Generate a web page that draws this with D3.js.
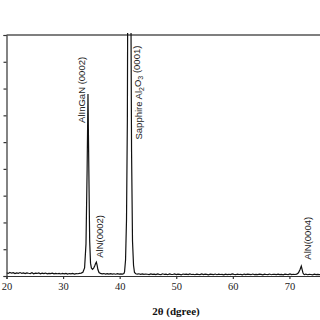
<!DOCTYPE html>
<html>
<head>
<meta charset="utf-8">
<script src="https://cdn.jsdelivr.net/npm/d3@7"></script>
<style>
  body { margin: 0; background: #fff; }
  svg { display: block; }
</style>
</head>
<body>
<div id="GraphDiv"></div>
<script>
// Global variables.
let width = 320
let height = 320
let margins = {"left": 6.5, "right": -26, "top": 35, "bottom": 44};

// Scan data (2theta in degrees, counts).
const scanAngle = [
  20.0, 20.3, 20.6, 20.9, 21.2, 21.5, 21.8, 22.1, 22.4, 22.7, 23.0, 23.3, 23.6, 23.9,
  24.2, 24.5, 24.8, 25.1, 25.4, 25.7, 26.0, 26.3, 26.6, 26.9, 27.2, 27.5, 27.8, 28.1,
  28.4, 28.7, 29.0, 29.3, 29.6, 29.9, 30.2, 30.5, 30.8, 31.1, 31.4, 31.7, 32.0, 32.3,
  32.6, 32.9, 33.2, 33.5, 33.8, 34.05, 34.25, 34.4, 34.55, 34.7, 34.85, 35.0, 35.2,
  35.4, 35.6, 35.75, 35.88, 36.0, 36.15, 36.35, 36.6, 36.9, 37.2, 37.5, 37.8, 38.1,
  38.4, 38.7, 39.0, 39.3, 39.6, 39.9, 40.2, 40.5, 40.75, 40.86, 41.04, 41.21, 41.36,
  41.42, 41.55, 41.71, 41.87, 42.0, 42.1, 42.27, 42.45, 42.62, 42.85, 43.1, 43.4, 43.7,
  44.0, 44.3, 44.6, 44.9, 45.2, 45.5, 45.8, 46.1, 46.4, 46.7, 47.0, 47.3, 47.6, 47.9,
  48.2, 48.5, 48.8, 49.1, 49.4, 49.7, 50.0, 50.3, 50.6, 50.9, 51.2, 51.5, 51.8, 52.1,
  52.4, 52.7, 53.0, 53.3, 53.6, 53.9, 54.2, 54.5, 54.8, 55.1, 55.4, 55.7, 56.0, 56.3,
  56.6, 56.9, 57.2, 57.5, 57.8, 58.1, 58.4, 58.7, 59.0, 59.3, 59.6, 59.9, 60.2, 60.5,
  60.8, 61.1, 61.4, 61.7, 62.0, 62.3, 62.6, 62.9, 63.2, 63.5, 63.8, 64.1, 64.4, 64.7,
  65.0, 65.3, 65.6, 65.9, 66.2, 66.5, 66.8, 67.1, 67.4, 67.7, 68.0, 68.3, 68.6, 68.9,
  69.2, 69.5, 69.8, 70.1, 70.4, 70.7, 71.0, 71.3, 71.6, 71.9, 72.1, 72.25, 72.4, 72.55,
  72.7, 72.9, 73.2, 73.5, 73.8, 74.1, 74.4, 74.7, 75.0, 75.3, 75.6, 75.9, 76.2, 76.5
]
const scanCounts = [
  120, 95, 130, 105, 125, 90, 115, 100, 128, 96, 112, 88, 118, 102,
  92, 120, 85, 108, 95, 115, 82, 104, 90, 110, 80, 98, 86, 106,
  78, 96, 84, 100, 76, 94, 82, 98, 74, 92, 80, 95, 72, 90,
  84, 98, 110, 140, 300, 1200, 4000, 6800, 4000, 1300, 480, 300, 250,
  290, 380, 470, 520, 420, 240, 130, 95, 80, 92, 70, 85, 68,
  88, 72, 84, 66, 86, 74, 82, 70, 90, 150, 600, 2100, 5800,
  10000, 22000, 30000, 22000, 9500, 4700, 1300, 400, 130, 85, 70, 84, 62,
  78, 58, 74, 66, 52, 80, 60, 72, 50, 76, 62, 55, 82, 58,
  70, 48, 76, 64, 56, 80, 52, 70, 60, 46, 74, 58, 68, 50,
  78, 56, 64, 48, 72, 60, 54, 76, 50, 66, 58, 44, 70, 62,
  52, 74, 48, 66, 56, 60, 46, 72, 54, 64, 50, 76, 58, 48,
  68, 56, 62, 44, 72, 52, 66, 58, 48, 74, 54, 62, 50, 68,
  60, 46, 70, 56, 52, 74, 48, 64, 58, 50, 72, 54, 62, 46,
  70, 58, 52, 76, 50, 64, 56, 70, 120, 250, 370, 240,
  110, 65, 54, 72, 48, 62, 56, 46, 68, 52, 60, 50, 66, 54
]
const xTicks = [20, 30, 40, 50, 60, 70]
const yTicks = [0, 1000, 2000, 3000, 4000, 5000, 6000, 7000, 8000, 9000]

// Peak labels: position in data units (angle, counts at label centre).
const peakNames = ["AlInGaN (0002)", "Sapphire Al|2|O|3| (0001)", "AlN(0002)", "AlN(0004)"]
const peakAngles = [33.2, 43.3, 36.45, 73.25]
const peakLabelCounts = [6950, 6850, 1480, 1410]

// Main svg element.
let svg = d3.select("#GraphDiv")
    .append("svg")
    .attr("width", width)
    .attr("height", height)

let plotW = width - margins.left - margins.right
let plotH = height - margins.top - margins.bottom

let g = svg.append("g")
    .attr("transform", "translate(" + margins.left + "," + margins.top + ")");

// Define axes ranges.
let xRange = d3.scaleLinear().domain([20, 80]).range([0, plotW]);
let yRange = d3.scaleLinear().domain([0, 9000]).range([plotH, 0]);

// Create axes.
let xAxis = d3.axisBottom(xRange).tickValues(xTicks).tickSize(3).tickPadding(4);
let yAxis = d3.axisLeft(yRange).tickValues(yTicks).tickSize(3).tickFormat("");

let gx = g.append("g").attr("transform", "translate(0," + plotH + ")").call(xAxis);
let gy = g.append("g").call(yAxis);

[gx, gy].forEach(function(a) {
    a.selectAll("path, line").attr("stroke", "#333").attr("stroke-width", 1.2);
    a.selectAll("text")
        .attr("fill", "#222")
        .style("font-family", "'Liberation Serif', 'Times New Roman', serif")
        .style("font-size", "10.5px");
});

// Top frame line.
g.append("line")
    .attr("x1", 0).attr("x2", plotW)
    .attr("y1", 0).attr("y2", 0)
    .attr("stroke", "#555")
    .attr("stroke-width", 1.5);

// Clip the trace to the plot area.
svg.append("defs").append("clipPath").attr("id", "plotClip")
    .append("rect").attr("x", 0).attr("y", -2).attr("width", plotW).attr("height", plotH + 2);

let line = d3.line()
    .x(function(d, i) { return xRange(scanAngle[i]); })
    .y(function(d) { return yRange(d); });

g.append("path")
    .datum(scanCounts)
    .attr("clip-path", "url(#plotClip)")
    .attr("fill", "none")
    .attr("stroke", "#111")
    .attr("stroke-width", 1.2)
    .attr("d", line);

// Peak labels, rotated.
peakNames.forEach(function(name, i) {
    let t = g.append("text")
        .attr("transform", "translate(" + xRange(peakAngles[i]) + "," + yRange(peakLabelCounts[i]) + ") rotate(-90)")
        .attr("text-anchor", "middle")
        .attr("dy", "0.35em")
        .attr("fill", "#222")
        .style("font-family", "'Liberation Sans', Arial, sans-serif")
        .style("font-size", "9.5px");
    // Pieces between bars are subscripts.
    name.split("|").forEach(function(part, k) {
        let s = t.append("tspan").text(part);
        if (k % 2 === 1) {
            s.attr("dy", "0.3em").style("font-size", "7px");
        } else if (k > 0) {
            s.attr("dy", "-0.3em");
        }
    });
});

// X axis title.
svg.append("text")
    .attr("x", 176)
    .attr("y", 315)
    .attr("text-anchor", "middle")
    .attr("fill", "#111")
    .style("font-family", "'Liberation Serif', 'Times New Roman', serif")
    .style("font-weight", "bold")
    .style("font-size", "11px")
    .text("2θ (dgree)");
</script>
</body>
</html>
